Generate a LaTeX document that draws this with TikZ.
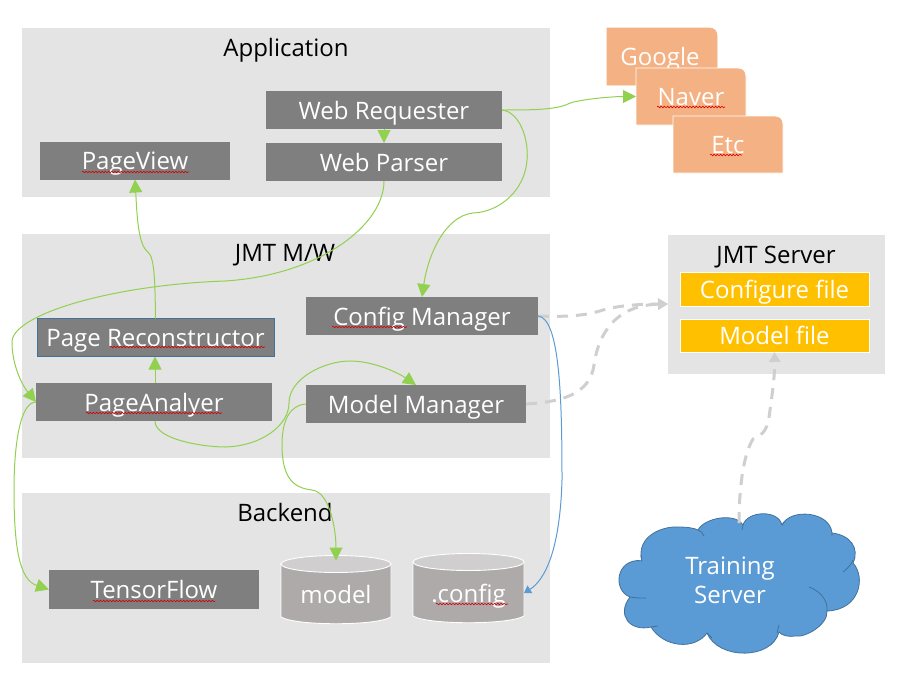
\documentclass[tikz,border=0pt]{standalone}
\usepackage{fontspec}
\setmainfont{Open Sans}
\usetikzlibrary{arrows.meta,decorations.pathmorphing}
\definecolor{panel}{HTML}{E4E4E4}
\definecolor{boxgrey}{HTML}{7F7F7F}
\definecolor{peach}{HTML}{F4B183}
\definecolor{gold}{HTML}{FFC000}
\definecolor{cylbody}{HTML}{AEAAAA}
\definecolor{cyltop}{HTML}{D0CECE}
\definecolor{cloudblue}{HTML}{5B9BD5}
\definecolor{cloudedge}{HTML}{41719C}
\definecolor{greenline}{HTML}{92D050}
\definecolor{dashgrey}{HTML}{D0CECE}
\tikzset{
  x=1pt,y=-1pt,
  txt/.style={font=\fontsize{24}{29}\selectfont,inner sep=0pt,outer sep=0pt,text height=22pt,text depth=4pt},
  whitetxt/.style={txt,text=white},
  boxed/.style={txt,text=white,fill=boxgrey,minimum width=#1,minimum height=38},
  goldbox/.style={txt,text=white,fill=gold,draw=white,line width=.8pt,minimum width=189,minimum height=34},
  panelbox/.style={fill=panel},
  ghost/.style={whitetxt,minimum width=110,minimum height=57},
  conn/.style={greenline,line width=1pt,-{Triangle[length=13pt,width=13pt]}},
  blueconn/.style={cloudblue,line width=1pt,-{Triangle[length=7pt,width=9pt]}},
  dashconn/.style={dashgrey,line width=3pt,dash pattern=on 11pt off 8pt,-{Triangle[length=10pt,width=11pt]}},
  squig/.style={red!85!black,line width=.6pt,decorate,decoration={snake,amplitude=.8pt,segment length=3.2pt}},
  tabshape/.style={fill=peach},
}
\newcommand{\tabcard}[3]{%
  \fill[tabshape,draw=#3,line width=.8pt] (#1,#2) -- (#1+102,#2) .. controls (#1+107,#2) and (#1+110,#2+3) .. (#1+110,#2+8) -- (#1+110,#2+57) -- (#1,#2+57) -- cycle;}
\newcommand{\can}[5]{% left right top-centre-y bottom-side-y ry
  \fill[cylbody,draw=white,line width=.9pt] (#1,#3) -- (#1,#4) .. controls (#1+15,#4+9) and (#2-15,#4+9) .. (#2,#4) -- (#2,#3) -- cycle;
  \path[fill=cyltop,draw=white,line width=.9pt] ({(#1+#2)/2},#3) ellipse [x radius={(#2-#1)/2},y radius=-#5];
}
\begin{document}
\begin{tikzpicture}
\useasboundingbox (0,0) rectangle (902,688);
% panels
\fill[panelbox] (22,28) rectangle (550,197);
\fill[panelbox] (22,234) rectangle (550,458);
\fill[panelbox] (22,493) rectangle (550,663);
\fill[panelbox] (668,235) rectangle (885,374);
\node[txt] (appl) at (286,47) {Application};
\node[txt] (mw) at (285,252) {JMT M/W};
\node[txt] (backend) at (285,512) {Backend};
\node[txt] (server) at (776,254) {JMT Server};
% cards
\tabcard{607}{28}{peach}
\node[whitetxt] (google) at (660,56) {Google};
\tabcard{636}{68}{white}
\node[ghost] (naver) at (691,96.5) {Naver};
\draw[squig] (657,107) -- (725,107);
\tabcard{673}{116}{white}
\node[ghost] (etc) at (728,144.5) {Etc};
\draw[squig] (710,155) -- (742,155);
% boxes
\node[boxed=236] (requester) at (384,110) {Web Requester};
\node[boxed=236] (parser) at (384,162) {Web Parser};
\node[boxed=190] (pageview) at (135,160.5) {PageView};
\node[boxed=232] (config) at (422,316) {Config Manager};
\node[boxed=237,draw=cloudedge,line width=.8pt,minimum height=38] (recon) at (155.5,337.5) {Page Reconstructor};
\node[boxed=236] (analyzer) at (154,402) {PageAnalyer};
\node[boxed=220] (modelmgr) at (416,404) {Model Manager};
\node[boxed=210,minimum height=39] (tensor) at (154,589.5) {TensorFlow};
\node[goldbox] (conffile) at (774.5,289) {Configure file};
\node[goldbox,minimum height=33] (modelfile) at (774.5,335.5) {Model file};
% cylinders
\can{281}{391}{564}{617}{8.5}
\can{413}{524}{562}{616}{8.5}
\node[whitetxt,minimum width=110,minimum height=68] (model) at (336,594.5) {model};
\node[whitetxt,minimum width=111,minimum height=68] (dotconfig) at (468.5,593) {.config};
% cloud
\path[fill=cloudblue,draw=cloudedge,line width=.8pt]
  (641.7,560.7)
  .. controls (636,535) and (664,526) .. (678,527)
  .. controls (687,527) and (694,528) .. (698,530)
  .. controls (704,518) and (735,512) .. (743,525)
  .. controls (747,511) and (778,509) .. (782,525)
  .. controls (790,508) and (830,511) .. (832,533)
  .. controls (850,535) and (860,548) .. (853,563)
  .. controls (866,577) and (860,610) .. (827,611)
  .. controls (828,625) and (805,638) .. (795,636)
  .. controls (790,637) and (782,636) .. (779,632)
  .. controls (772,660) and (718,660) .. (707,633)
  .. controls (695,650) and (664,648) .. (651,627)
  .. controls (630,632) and (616,615) .. (630,597)
  .. controls (612,590) and (616,558) .. (641.7,560.7)
  -- cycle;
\node[text=white,inner sep=0pt,align=center,font=\fontsize{24}{29}\selectfont] (training) at (730,580.5) {Training\\Server};
\draw[cloudedge,line width=.8pt]
  (641,555) -- (641.7,561)
  (698,530) .. controls (701,531) and (703,533) .. (704,536)
  (743,525) -- (742,530)
  (782,525) -- (785,521)
  (832,533) -- (832,536)
  (853,560) .. controls (851,565) and (847,569) .. (843,572)
  (809,587) .. controls (820,591) and (828,600) .. (827,611)
  (779,625) -- (777,633)
  (707,633) -- (712,638)
  (651,627) -- (658,626)
  (630,597) .. controls (635,598) and (640,598) .. (646,598);
% squiggles
\draw[squig] (82,172) -- (189,172);
\draw[squig] (110,347) -- (265,347);
\draw[squig] (86,413) -- (222,413);
\draw[squig] (332,327) -- (407,327);
\draw[squig] (436,604) -- (508,604);
\draw[squig] (93,601) -- (215,601);
% connectors
\coordinate (serverin) at (668,304);
\coordinate (cloudtop) at (739,523);
\draw[dashconn] (config.east) .. controls (565,317) and (585,316) .. (603,310) .. controls (620,305) and (645,304) .. (serverin);
\draw[dashconn] (modelmgr.east) .. controls (560,402) and (590,395) .. (594,365) .. controls (598,335) and (615,305) .. (serverin);
\draw[dashconn] (cloudtop) .. controls (739,490) and (743,455) .. (753,439) .. controls (765,434) and (768,428) .. (770,410) .. controls (773,390) and (775,370) .. (modelfile.south);
\draw[conn] (requester.east) .. controls (530,110) and (555,110) .. (568,104) .. controls (575,100) and (610,96.5) .. (naver.west);
\draw[conn] (requester.south) -- (parser.north);
\draw[conn] (requester.east) .. controls (520,112) and (529,140) .. (527,160) .. controls (525,190) and (500,212) .. (473,213) .. controls (445,216) and (428,255) .. (config.north);
\draw[conn] (parser.south) .. controls (384,225) and (320,275) .. (225,281) .. controls (110,285) and (12,315) .. (12,342) .. controls (12,365) and (22,385) .. (analyzer.west);
\draw[conn] (recon.north) .. controls (155,285) and (155,258) .. (148,252) .. controls (138,245) and (137,215) .. (pageview.south);
\draw[conn] ([xshift=1pt]analyzer.south) .. controls (155,440) and (205,447) .. (225,447) .. controls (262,446) and (289,425) .. (289,403) .. controls (289,378) and (325,361) .. (350,361) .. controls (375,361) and (400,374) .. (modelmgr.north);
\draw[conn] ([xshift=1pt]analyzer.north) -- ([xshift=-.5pt]recon.south);
\draw[conn] (analyzer.west) .. controls (20,402) and (14,445) .. (14,490) .. controls (14,550) and (20,580) .. (tensor.west);
\draw[conn] (modelmgr.west) .. controls (290,405) and (282,420) .. (282,445) .. controls (282,480) and (295,488) .. (312,490) .. controls (330,492) and (336,530) .. (model.north);
\draw[blueconn] (config.east) .. controls (560,318) and (562,400) .. (562,480) .. controls (560,550) and (545,580) .. (dotconfig.east);
\end{tikzpicture}
\end{document}
